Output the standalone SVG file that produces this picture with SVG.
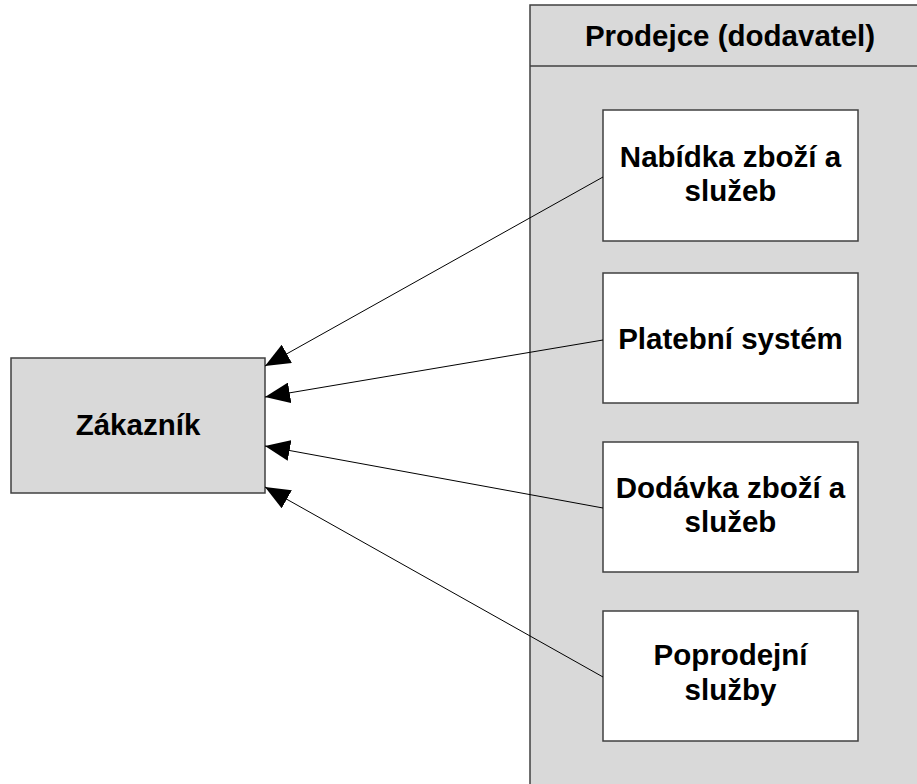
<svg xmlns="http://www.w3.org/2000/svg" width="917" height="784" viewBox="0 0 917 784">
<style>
.box{fill:#d9d9d9;stroke:#404040;stroke-width:1.5}
.inner{fill:#ffffff;stroke:#404040;stroke-width:1.5}
.t{font-family:"Liberation Sans",Arial,sans-serif;font-weight:bold;font-size:29.5px;fill:#000;text-anchor:middle}
.conn{stroke:#000;stroke-width:1;fill:none;marker-end:url(#ah)}
</style>
<defs>
<marker id="ah" markerUnits="userSpaceOnUse" markerWidth="25" markerHeight="21" viewBox="0 0 24 20" refX="24" refY="10" orient="auto">
<path d="M0,0 L24,10 L0,20 Z" fill="#000"/>
</marker>
</defs>
<rect width="917" height="784" fill="#ffffff"/>
<g id="prodejce">
<rect class="box" x="530" y="5" width="400" height="790"/>
<line x1="530" y1="66" x2="917" y2="66" stroke="#404040" stroke-width="1.5"/>
<text class="t" x="730" y="46">Prodejce (dodavatel)</text>
</g>
<g id="zakaznik">
<rect class="box" x="11" y="358" width="254" height="135"/>
<text class="t" x="138" y="435">Zákazník</text>
</g>
<g id="nabidka">
<rect class="inner" x="603" y="110" width="255" height="131"/>
<text class="t" x="730.5" y="167">Nabídka zboží a</text>
<text class="t" x="730.5" y="201">služeb</text>
</g>
<g id="platebni">
<rect class="inner" x="603" y="273" width="255" height="130"/>
<text class="t" x="730.5" y="349">Platební systém</text>
</g>
<g id="dodavka">
<rect class="inner" x="603" y="442" width="255" height="130"/>
<text class="t" x="730.5" y="498">Dodávka zboží a</text>
<text class="t" x="730.5" y="532">služeb</text>
</g>
<g id="poprodejni">
<rect class="inner" x="603" y="611" width="255" height="130"/>
<text class="t" x="730.5" y="665">Poprodejní</text>
<text class="t" x="730.5" y="700">služby</text>
</g>
<g id="connectors">
<line class="conn" x1="603" y1="177" x2="265" y2="366"/>
<line class="conn" x1="603" y1="340" x2="265" y2="397"/>
<line class="conn" x1="603" y1="508" x2="265" y2="446"/>
<line class="conn" x1="603" y1="677" x2="265" y2="487"/>
</g>
</svg>
